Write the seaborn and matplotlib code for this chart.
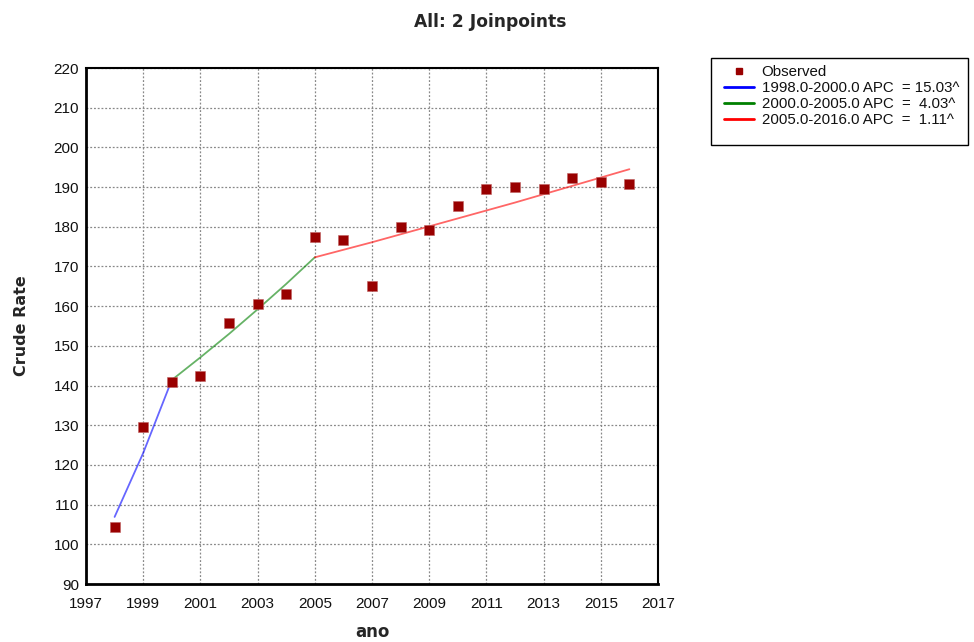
import matplotlib
matplotlib.use("Agg")
import matplotlib.pyplot as plt
import seaborn as sns
import pandas as pd
from matplotlib.lines import Line2D
from matplotlib.patches import Rectangle

# ---- data ----
years = [1998, 1999, 2000, 2001, 2002, 2003, 2004, 2005, 2006, 2007,
         2008, 2009, 2010, 2011, 2012, 2013, 2014, 2015, 2016]
observed = [104.4, 129.5, 141.0, 142.5, 155.8, 160.5, 163.1, 177.5, 176.7, 165.1,
            179.9, 179.2, 185.2, 189.6, 190.0, 189.4, 192.3, 191.3, 190.9]

seg1_years = [1998, 1999, 2000]
seg1_fit = [106.9, 123.0, 141.4]
seg2_years = [2000, 2001, 2002, 2003, 2004, 2005]
seg2_fit = [141.4, 147.1, 153.0, 159.2, 165.6, 172.3]
seg3_years = [2005, 2006, 2007, 2008, 2009, 2010, 2011, 2012, 2013, 2014, 2015, 2016]
seg3_fit = [172.3, 174.2, 176.1, 178.1, 180.1, 182.1, 184.1, 186.1, 188.2, 190.3, 192.4, 194.5]

legend_labels = ["Observed",
                 "1998.0-2000.0 APC  = 15.03^",
                 "2000.0-2005.0 APC  =  4.03^",
                 "2005.0-2016.0 APC  =  1.11^"]
x_ticks = list(range(1997, 2018, 2))
y_ticks = list(range(90, 221, 10))

title = "All: 2 Joinpoints"
xlabel = "ano"
ylabel = "Crude Rate"

# ---- style ----
sns.set_style("white")
plt.rcParams["font.family"] = ["Liberation Sans", "DejaVu Sans"]

W, H = 974, 642
fig = plt.figure(figsize=(W / 100, H / 100), dpi=100)
ax = fig.add_axes([86 / W, 1 - 584 / H, (658 - 86) / W, (584 - 68) / H])

obs_df = pd.DataFrame({"year": years, "rate": observed})
seg_colors = ["#0000FF", "#008000", "#FF0000"]
segs = [(seg1_years, seg1_fit), (seg2_years, seg2_fit), (seg3_years, seg3_fit)]
for (sx, sy), c in zip(segs, seg_colors):
    sns.lineplot(x=sx, y=sy, ax=ax, color=c, linewidth=1.3, alpha=0.6, zorder=3)

sns.scatterplot(data=obs_df, x="year", y="rate", ax=ax, marker="s", s=48,
                color="#990000", edgecolor="#c06060", linewidth=0.4, zorder=4)

ax.set_xlim(1997, 2017)
ax.set_ylim(90, 220)
ax.set_xticks(x_ticks)
ax.set_yticks(y_ticks)
ax.grid(True, linestyle=(0, (1.5, 1.5)), color="#888888", linewidth=0.9)
ax.set_axisbelow(True)
ax.tick_params(axis="x", length=0, pad=9, labelsize=11, labelcolor="#111111")
ax.tick_params(axis="y", length=0, pad=5, labelsize=11, labelcolor="#111111")
for side in ["left", "bottom", "right", "top"]:
    ax.spines[side].set_visible(True)
    ax.spines[side].set_color("black")
ax.spines["left"].set_linewidth(2.0)
ax.spines["bottom"].set_linewidth(2.0)
ax.spines["right"].set_linewidth(1.5)
ax.spines["top"].set_linewidth(1.5)

ax.set_xlabel(xlabel, fontsize=12, fontweight="bold", family="DejaVu Sans", labelpad=9)
ax.set_ylabel(ylabel, fontsize=11.5, fontweight="bold", family="DejaVu Sans", labelpad=18)
fig.text(490 / W, 1 - 22 / H, title, ha="center", va="center", fontsize=12.3,
         fontweight="bold", family="DejaVu Sans")

# legend frame drawn as a figure rectangle (behind the legend)
fig.patches.append(Rectangle((711 / W, 1 - 145 / H), (968 - 711) / W, (145 - 58) / H,
                             transform=fig.transFigure, facecolor="white",
                             edgecolor="black", linewidth=1.0, zorder=-1))

handles = [Line2D([], [], marker="s", linestyle="none", color="#990000", markersize=4.5)]
handles += [Line2D([], [], color=c, linewidth=2) for c in seg_colors]
leg = fig.legend(handles, legend_labels, loc="upper left",
                 bbox_to_anchor=(724 / W, 1 - 65 / H), bbox_transform=fig.transFigure,
                 borderaxespad=0, frameon=False, fontsize=10.8, handlelength=2.0,
                 handletextpad=0.5, labelspacing=0.14, borderpad=0)
leg.set_zorder(5)
for t in leg.get_texts():
    t.set_color("#111111")

fig.savefig("out.png", dpi=100)
